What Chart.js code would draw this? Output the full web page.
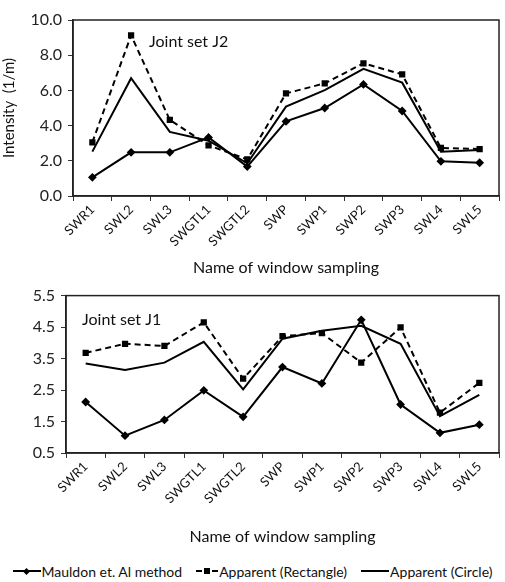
<!DOCTYPE html>
<html>
<head>
<meta charset="utf-8">
<script src="https://cdn.jsdelivr.net/npm/chart.js@4.4.1/dist/chart.umd.min.js"></script>
<style>
  body { margin: 0; background: #fff; font-family: Lato, "Open Sans", sans-serif; overflow: hidden; }
  canvas { display: block; }
  #legenda { box-sizing: border-box; height: 34px; padding-top: 12px; display: flex; justify-content: center; align-items: center; font-size: 14px; color: #111; }
  .item { display: flex; align-items: center; margin: 0 7px; }
  .linha { display: inline-block; position: relative; width: 28px; height: 0; border-top: 2px solid #000; margin-right: 1px; }
  .linha.tracejada { width: 22px; border-top-style: dashed; }
  .marca { position: absolute; left: 8px; top: -4px; width: 6px; height: 6px; background: #000; }
  .marca.losango { left: 11px; transform: rotate(45deg); width: 5px; height: 5px; top: -3.5px; }
</style>
</head>
<body>
<canvas id="graficoJ2" width="505" height="280"></canvas>
<canvas id="graficoJ1" width="505" height="268"></canvas>
<div id="legenda">
  <div class="item"><span class="linha"><span class="marca losango"></span></span>Mauldon et. Al method</div>
  <div class="item"><span class="linha tracejada"><span class="marca"></span></span>Apparent (Rectangle)</div>
  <div class="item"><span class="linha"></span>Apparent (Circle)</div>
</div>
<script>
// dados
const categorias = ['SWR1', 'SWL2', 'SWL3', 'SWGTL1', 'SWGTL2', 'SWP', 'SWP1', 'SWP2', 'SWP3', 'SWL4', 'SWL5'];
const nomesSeries = ['Mauldon et. Al method', 'Apparent (Rectangle)', 'Apparent (Circle)'];

const j2Mauldon = [1.06, 2.48, 2.48, 3.33, 1.67, 4.24, 5.00, 6.34, 4.83, 1.97, 1.89];
const j2Rectangle = [3.05, 9.13, 4.32, 2.88, 2.08, 5.83, 6.40, 7.54, 6.91, 2.73, 2.67];
const j2Circle = [2.52, 6.69, 3.64, 3.14, 1.86, 5.08, 6.02, 7.22, 6.44, 2.52, 2.61];
const j2TicksY = [0, 2, 4, 6, 8, 10];

const j1Mauldon = [2.12, 1.05, 1.55, 2.49, 1.65, 3.23, 2.71, 4.73, 2.04, 1.14, 1.40];
const j1Rectangle = [3.68, 3.97, 3.90, 4.65, 2.86, 4.21, 4.31, 3.37, 4.49, 1.78, 2.73];
const j1Circle = [3.34, 3.14, 3.37, 4.03, 2.52, 4.13, 4.38, 4.54, 3.97, 1.67, 2.35];
const j1TicksY = [0.5, 1.5, 2.5, 3.5, 4.5, 5.5];

const tituloX = 'Name of window sampling';
const tituloY = 'Intensity  (1/m)';

const fonte = 'Lato, "Open Sans", sans-serif';

// moldura do gráfico + texto "Joint set"
const molduraPlugin = {
    id: 'moldura',
    afterDraw(chart, args, opts) {
        const a = chart.chartArea;
        const ctx = chart.ctx;
        ctx.save();
        ctx.strokeStyle = '#222';
        ctx.lineWidth = 1.5;
        ctx.strokeRect(a.left, a.top, a.right - a.left, a.bottom - a.top);
        ctx.fillStyle = '#111';
        ctx.font = '16px ' + fonte;
        ctx.textBaseline = 'middle';
        ctx.fillText(opts.texto, a.left + opts.dx, a.top + opts.dy);
        ctx.restore();
    }
};

function criarGrafico(id, mauldon, retangulo, circulo, ticksY, cfg) {
    const data = {
        labels: categorias,
        datasets: [{
            label: nomesSeries[0],
            data: mauldon,
            borderColor: '#000',
            backgroundColor: '#000',
            borderWidth: 2,
            pointStyle: 'rectRot',
            pointRadius: 3
        }, {
            label: nomesSeries[1],
            data: retangulo,
            borderColor: '#000',
            backgroundColor: '#000',
            borderWidth: 2,
            borderDash: [6, 4],
            pointStyle: 'rect',
            pointRadius: 3
        }, {
            label: nomesSeries[2],
            data: circulo,
            borderColor: '#000',
            borderWidth: 2,
            pointRadius: 0
        }]
    };

    const config = {
        type: 'line',
        data: data,
        options: {
            responsive: false,
            animation: false,
            layout: { padding: { top: cfg.topo, right: 2, left: 0, bottom: 0 } },
            plugins: {
                legend: { display: false },
                tooltip: { enabled: false },
                moldura: { texto: cfg.texto, dx: cfg.dx, dy: cfg.dy }
            },
            scales: {
                x: {
                    offset: true,
                    grid: { offset: true, drawOnChartArea: false, color: '#333', tickLength: 5 },
                    border: { color: '#222', width: 1.5 },
                    ticks: {
                        minRotation: 45, maxRotation: 45, autoSkip: false,
                        color: '#111', padding: 1,
                        font: { family: fonte, size: 13 }
                    },
                    title: {
                        display: true, text: tituloX, color: '#111',
                        font: { family: fonte, size: 16 },
                        padding: { top: 2, bottom: cfg.tituloBaixo }
                    },
                    afterFit: s => { s.height = cfg.alturaX; }
                },
                y: {
                    min: ticksY[0],
                    max: ticksY[ticksY.length - 1],
                    grid: { drawOnChartArea: false, color: '#333', tickLength: 5 },
                    border: { color: '#222', width: 1.5 },
                    ticks: {
                        stepSize: ticksY[1] - ticksY[0],
                        color: '#222', padding: 6,
                        font: { family: fonte, size: 16 },
                        callback: v => v.toFixed(1)
                    },
                    title: {
                        display: cfg.mostrarTituloY, text: tituloY, color: '#111',
                        font: { family: fonte, size: 15 },
                        padding: 0
                    },
                    afterFit: s => { s.width = cfg.larguraY; }
                }
            }
        },
        plugins: [molduraPlugin]
    };

    const ctx = document.getElementById(id).getContext('2d');
    return new Chart(ctx, config);
}

criarGrafico('graficoJ2', j2Mauldon, j2Rectangle, j2Circle, j2TicksY, {
    topo: 20, alturaX: 84, larguraY: 73, mostrarTituloY: true,
    texto: 'Joint set J2', dx: 76, dy: 22, tituloBaixo: 3
});
criarGrafico('graficoJ1', j1Mauldon, j1Rectangle, j1Circle, j1TicksY, {
    topo: 9, alturaX: 95, larguraY: 66, mostrarTituloY: false,
    texto: 'Joint set J1', dx: 16, dy: 24, tituloBaixo: 2
});
</script>
</body>
</html>
